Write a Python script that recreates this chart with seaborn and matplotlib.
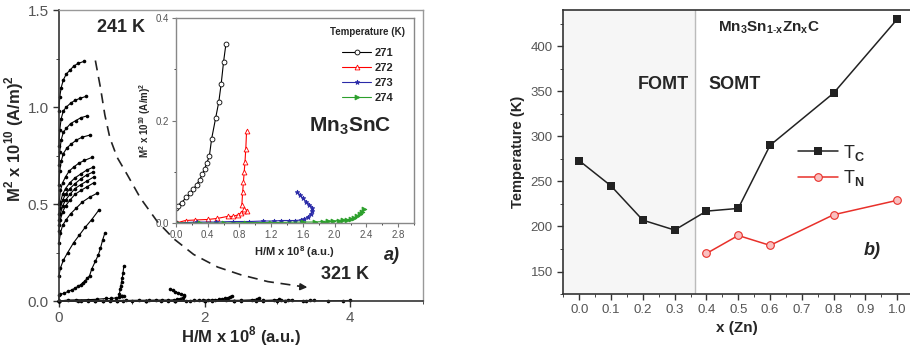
import matplotlib
matplotlib.use("Agg")
import matplotlib.pyplot as plt
from matplotlib.ticker import MultipleLocator
import pandas as pd
import seaborn as sns

# ---- panel a) Arrott plots of Mn3SnC, 241 K ... 321 K ----
# low-temperature isotherms (x = H/M x 1e8, y = M^2 x 1e10)
iso_x = [
    [0.0, 0.01, 0.03, 0.06, 0.1, 0.15, 0.2, 0.26, 0.34],
    [0.0, 0.01, 0.03, 0.06, 0.1, 0.16, 0.22, 0.29, 0.37],
    [0.0, 0.01, 0.03, 0.06, 0.1, 0.16, 0.23, 0.3, 0.39],
    [0.0, 0.01, 0.03, 0.06, 0.11, 0.17, 0.24, 0.32, 0.42],
    [0.0, 0.02, 0.05, 0.09, 0.14, 0.2, 0.27, 0.35, 0.45],
    [0.0, 0.02, 0.05, 0.09, 0.15, 0.22, 0.3, 0.38, 0.47],
    [0.0, 0.02, 0.05, 0.09, 0.15, 0.22, 0.3, 0.38, 0.47],
    [0.0, 0.02, 0.05, 0.09, 0.15, 0.22, 0.3, 0.39, 0.48],
    [0.0, 0.02, 0.05, 0.09, 0.15, 0.22, 0.3, 0.39, 0.48],
    [0.0, 0.02, 0.05, 0.1, 0.16, 0.24, 0.32, 0.42, 0.52],
    [0.0, 0.02, 0.06, 0.12, 0.2, 0.28, 0.36, 0.45, 0.55],
]
iso_y = [
    [0.98, 1.05, 1.1, 1.14, 1.17, 1.19, 1.21, 1.225, 1.235],
    [0.8, 0.88, 0.94, 0.98, 1.0, 1.02, 1.035, 1.045, 1.055],
    [0.7, 0.77, 0.83, 0.87, 0.89, 0.915, 0.93, 0.945, 0.955],
    [0.6, 0.67, 0.72, 0.76, 0.79, 0.81, 0.83, 0.845, 0.855],
    [0.5, 0.57, 0.61, 0.64, 0.67, 0.69, 0.71, 0.725, 0.74],
    [0.45, 0.51, 0.55, 0.58, 0.61, 0.635, 0.655, 0.675, 0.69],
    [0.42, 0.48, 0.52, 0.55, 0.58, 0.605, 0.63, 0.65, 0.665],
    [0.39, 0.45, 0.49, 0.52, 0.55, 0.58, 0.6, 0.62, 0.64],
    [0.36, 0.42, 0.46, 0.49, 0.52, 0.55, 0.57, 0.59, 0.61],
    [0.3, 0.35, 0.39, 0.42, 0.45, 0.48, 0.51, 0.535, 0.555],
    [0.13, 0.17, 0.21, 0.25, 0.3, 0.34, 0.38, 0.42, 0.47],
]

# isotherms near the transition (also shown in the inset)
t271_x = [0.0, 0.0, 0.02, 0.07, 0.13, 0.18, 0.22, 0.26, 0.3, 0.33, 0.36, 0.39, 0.42, 0.45, 0.5, 0.54, 0.57, 0.6, 0.63]
t271_y = [0.0, 0.03, 0.034, 0.04, 0.05, 0.058, 0.066, 0.075, 0.085, 0.095, 0.105, 0.118, 0.13, 0.165, 0.205, 0.237, 0.272, 0.315, 0.35]
t272_x = [0.0, 0.12, 0.24, 0.4, 0.52, 0.65, 0.72, 0.78, 0.82, 0.86, 0.9, 0.86, 0.83, 0.84, 0.85, 0.86, 0.87, 0.88, 0.89]
t272_y = [0.0, 0.005, 0.006, 0.007, 0.009, 0.013, 0.013, 0.016, 0.02, 0.024, 0.024, 0.028, 0.035, 0.06, 0.08, 0.1, 0.12, 0.145, 0.18]
t273_x = [0.0, 0.26, 0.5, 0.72, 0.92, 1.1, 1.23, 1.33, 1.42, 1.5, 1.58, 1.62, 1.66, 1.7, 1.72, 1.72, 1.68, 1.64, 1.6, 1.56, 1.53]
t273_y = [0.0, 0.002, 0.002, 0.003, 0.003, 0.004, 0.004, 0.005, 0.005, 0.005, 0.006, 0.008, 0.012, 0.018, 0.024, 0.03, 0.036, 0.042, 0.048, 0.055, 0.06]
t274_x = [0.0, 0.3, 0.6, 0.88, 1.2, 1.6, 1.75, 1.85, 1.92, 1.98, 2.05, 2.1, 2.15, 2.2, 2.24, 2.28, 2.32, 2.35, 2.37]
t274_y = [0.0, 0.0, 0.0, 0.001, 0.001, 0.002, 0.002, 0.003, 0.004, 0.004, 0.005, 0.006, 0.006, 0.008, 0.01, 0.013, 0.017, 0.022, 0.027]
inset_temps = ["271", "272", "273", "274"]

# high-temperature isotherms, only in the main panel
hot_x = [
    [0.0, 0.4, 0.8, 1.2, 1.6, 2.0, 2.3, 2.5, 2.65, 2.72, 2.75],
    [0.0, 0.5, 1.0, 1.5, 2.0, 2.5, 2.8, 2.95, 3.02],
    [0.0, 0.6, 1.2, 1.8, 2.4, 2.8, 3.05, 3.15, 3.2],
    [0.0, 0.7, 1.4, 2.1, 2.7, 3.1, 3.35, 3.45, 3.5],
    [0.0, 0.8, 1.6, 2.4, 3.0, 3.4, 3.7, 3.9, 4.0],
]
hot_y = [
    [0.0, 0.0, 0.001, 0.001, 0.002, 0.002, 0.003, 0.004, 0.006, 0.01, 0.014],
    [0.0, 0.0, 0.0, 0.001, 0.001, 0.002, 0.003, 0.005, 0.008],
    [0.0, 0.0, 0.0, 0.001, 0.001, 0.002, 0.003, 0.004, 0.006],
    [0.0, 0.0, 0.0, 0.0, 0.001, 0.001, 0.002, 0.003, 0.004],
    [0.0, 0.0, 0.0, 0.0, 0.0, 0.001, 0.001, 0.002, 0.003],
]

# dashed guide from 241 K to 321 K
guide_x = [0.5, 0.53, 0.57, 0.63, 0.7, 0.8, 0.94, 1.12, 1.35, 1.58, 1.85, 2.18, 2.5, 2.87, 3.15, 3.38]
guide_y = [1.24, 1.18, 1.1, 0.96, 0.84, 0.74, 0.65, 0.53, 0.41, 0.32, 0.24, 0.175, 0.135, 0.1, 0.085, 0.072]

# ---- panel b) transition temperatures of Mn3Sn1-xZnxC ----
zn_x = [0.0, 0.1, 0.2, 0.3, 0.4, 0.5, 0.6, 0.8, 1.0]
t_c = [273, 245, 207, 196, 217, 220, 290, 348, 430]
zn_x_n = [0.4, 0.5, 0.6, 0.8, 1.0]
t_n = [170, 190, 179, 213, 229]

sns.set_style("ticks")
plt.rcParams["font.family"] = ["Liberation Sans", "DejaVu Sans"]
plt.rcParams["mathtext.fontset"] = "custom"
plt.rcParams["mathtext.rm"] = "Liberation Sans"
plt.rcParams["mathtext.bf"] = "Liberation Sans:bold"

fig = plt.figure(figsize=(9.1, 3.48), dpi=100)
ax = fig.add_axes([0.0648, 0.135, 0.40, 0.836])
axi = fig.add_axes([0.1934, 0.359, 0.2615, 0.589])
axb = fig.add_axes([0.619, 0.155, 0.381, 0.816])

tick_col = "#555555"
dot = dict(color="black", marker="o", markersize=2.6, linewidth=0.8,
           markeredgewidth=0, sort=False, estimator=None, legend=False)

# main panel
all_x = iso_x + [t271_x, t272_x, t273_x, t274_x] + hot_x
all_y = iso_y + [t271_y, t272_y, t273_y, t274_y] + hot_y
for xs, ys in zip(all_x, all_y):
    sns.lineplot(x=xs, y=ys, ax=ax, clip_on=False, **dot)

ax.plot(guide_x, guide_y, ls=(0, (6, 4)), color="#222222", lw=1.2)
ax.annotate("", xy=(3.45, 0.07), xytext=(3.3, 0.074),
            arrowprops=dict(arrowstyle="-|>", color="#222222", lw=1.2, mutation_scale=10))

ax.set_xlim(0, 5)
ax.set_ylim(0, 1.5)
ax.xaxis.set_minor_locator(MultipleLocator(1))
ax.yaxis.set_major_locator(MultipleLocator(0.5))
ax.yaxis.set_minor_locator(MultipleLocator(0.25))
ax.set_xticks([0, 2, 4])
ax.set_xticklabels(["0", "2", "4"])
ax.tick_params(labelsize=11, colors="#333333", labelcolor=tick_col, length=4, width=1)
ax.tick_params(which="minor", length=2)
ax.set_xlabel(r"H/M x 10$^{\mathbf{8}}$ (a.u.)", fontsize=12, fontweight="bold", labelpad=-1)
ax.set_ylabel(r"M$^{\mathbf{2}}$ x 10$^{\mathbf{10}}$ (A/m)$^{\mathbf{2}}$", fontsize=12,
              fontweight="bold")
ax.yaxis.set_label_coords(-0.09, 0.56)
for s in ["left", "bottom"]:
    ax.spines[s].set_color("#333333")
    ax.spines[s].set_linewidth(1.2)
for s in ["top", "right"]:
    ax.spines[s].set_color("#999999")
    ax.spines[s].set_linewidth(1.0)

ax.text(0.52, 1.41, "241 K", fontsize=13, fontweight="bold", va="center")
ax.text(3.6, 0.135, "321 K", fontsize=13, fontweight="bold", va="center")
ax.text(4.47, 0.235, "a)", fontsize=13, fontweight="bold", style="italic", va="center")

# inset
inset = pd.DataFrame({
    "x": t271_x + t272_x + t273_x + t274_x,
    "y": t271_y + t272_y + t273_y + t274_y,
    "T": ([inset_temps[0]] * len(t271_x) + [inset_temps[1]] * len(t272_x)
          + [inset_temps[2]] * len(t273_x) + [inset_temps[3]] * len(t274_x)),
})
inset_cols = ["black", "red", "#2a2aa8", "#2ca02c"]
inset_marks = ["o", "^", "*", ">"]
for temp, col, mk in zip(inset_temps, inset_cols, inset_marks):
    sub = inset[inset["T"] == temp]
    sns.lineplot(data=sub, x="x", y="y", ax=axi, sort=False, estimator=None,
                 color=col, marker=mk, markersize=3.5, linewidth=0.8,
                 markerfacecolor="white" if temp in ("271", "272") else col,
                 markeredgecolor=col, markeredgewidth=0.6, label=temp)

axi.set_xlim(0, 3.0)
axi.set_ylim(0, 0.4)
axi.xaxis.set_minor_locator(MultipleLocator(0.2))
axi.yaxis.set_minor_locator(MultipleLocator(0.1))
axi.set_yticks([0.0, 0.2, 0.4])
axi.set_yticklabels(["0.0", "0.2", "0.4"])
axi.set_xticks([0.0, 0.4, 0.8, 1.2, 1.6, 2.0, 2.4, 2.8])
axi.set_xticklabels(["0.0", "0.4", "0.8", "1.2", "1.6", "2.0", "2.4", "2.8"])
axi.tick_params(labelsize=7, colors="#777777", labelcolor=tick_col, length=3, width=0.8, pad=2)
axi.tick_params(which="minor", length=1.5)
axi.set_xlabel(r"H/M x 10$^{\mathbf{8}}$ (a.u.)", fontsize=8, fontweight="bold", labelpad=3)
axi.set_ylabel(r"M$^{\mathbf{2}}$ x 10$^{\mathbf{10}}$ (A/m)$^{\mathbf{2}}$", fontsize=7,
               fontweight="bold", labelpad=2)
for s in axi.spines.values():
    s.set_color("#888888")
    s.set_linewidth(1.0)
leg = axi.legend(title="Temperature (K)", loc="upper right", frameon=False,
                 fontsize=8, title_fontsize=7, handlelength=2.6, labelspacing=0.45,
                 borderaxespad=0.4, handletextpad=0.3)
leg._legend_box.sep = 8
for t in leg.get_texts():
    t.set_fontweight("bold")
leg.get_title().set_fontweight("bold")
axi.text(2.2, 0.19, r"Mn$_{\mathbf{3}}$SnC", fontsize=15, fontweight="bold",
         ha="center", va="center")

# panel b)
axb.axvspan(-0.05, 0.365, color="#f6f6f6", zorder=0)
axb.axvline(0.365, color="#bbbbbb", lw=1, zorder=1)
sns.lineplot(x=zn_x, y=t_c, ax=axb, color="#222222", marker="s", markersize=5.5,
             markeredgewidth=0, linewidth=1.1, label="T$_{\\mathbf{C}}$")
sns.lineplot(x=zn_x_n, y=t_n, ax=axb, color="#e8302a", marker="o", markersize=5.5,
             markerfacecolor="#f9c0c0", markeredgecolor="#e8302a", markeredgewidth=0.8,
             linewidth=1.1, label="T$_{\\mathbf{N}}$")
axb.set_xlim(-0.05, 1.04)
axb.set_ylim(125, 440)
axb.set_xticks([0.0, 0.1, 0.2, 0.3, 0.4, 0.5, 0.6, 0.7, 0.8, 0.9, 1.0])
axb.set_xticklabels(["0.0", "0.1", "0.2", "0.3", "0.4", "0.5", "0.6", "0.7", "0.8", "0.9", "1.0"])
axb.xaxis.set_minor_locator(MultipleLocator(0.05))
axb.set_yticks([150, 200, 250, 300, 350, 400])
axb.yaxis.set_minor_locator(MultipleLocator(25))
axb.tick_params(labelsize=9.5, colors="#333333", labelcolor=tick_col, length=4, width=1)
axb.tick_params(which="minor", length=2)
axb.set_xlabel("x (Zn)", fontsize=11, fontweight="bold", labelpad=3)
axb.set_ylabel("Temperature (K)", fontsize=10.5, fontweight="bold", labelpad=4)
axb.spines["right"].set_visible(False)
for s in ["left", "bottom", "top"]:
    axb.spines[s].set_color("#333333")
    axb.spines[s].set_linewidth(1.2)
legb = axb.legend(loc="upper left", bbox_to_anchor=(0.63, 0.59), frameon=False,
                  fontsize=13, handlelength=2.2, labelspacing=0.3, handletextpad=0.3)
axb.text(0.265, 357, "FOMT", fontsize=13, fontweight="bold", ha="center", va="center")
axb.text(0.49, 357, "SOMT", fontsize=13, fontweight="bold", ha="center", va="center")
axb.text(0.435, 420, r"Mn$_{\mathbf{3}}$Sn$_{\mathbf{1\text{-}x}}$Zn$_{\mathbf{x}}$C",
         fontsize=11, fontweight="bold", va="center")
axb.text(0.92, 173, "b)", fontsize=13, fontweight="bold", style="italic",
         ha="center", va="center")

fig.savefig("out.png", dpi=100)
